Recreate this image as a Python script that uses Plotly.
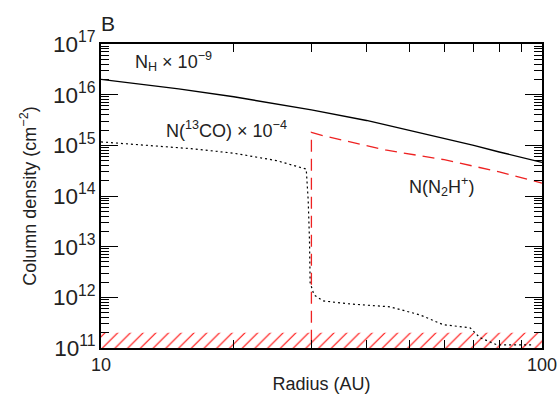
import plotly.graph_objects as go

# N_H x 1e-9 (solid)
nh_r = [10, 15, 20, 25, 30, 40, 50, 60, 70, 80, 90, 100]
nh_val = [2.0e16, 1.3e16, 9.1e15, 6.6e15, 5.0e15, 3.1e15, 2.0e15, 1.38e15, 1.0e15, 7.4e14, 5.7e14, 4.6e14]

# N(13CO) x 1e-4 (dotted)
co_r = [10, 12.9, 16, 20, 25, 29.2, 29.5, 29.7, 29.8, 30.4, 31.9, 36.7, 45.2, 52.9, 59.6, 68.7, 72.3, 79.1, 86.7, 95.2]
co_val = [1.17e15, 9.8e14, 8.6e14, 7.0e14, 5.0e14, 3.4e14, 8.3e13, 1.35e13, 1.95e12, 1.12e12,
          8.5e11, 7.4e11, 6.5e11, 4.5e11, 2.9e11, 2.5e11, 1.6e11, 1.15e11, 1.15e11, 1.15e11]

# N(N2H+) (dashed red)
n2h_r = [30.0, 30.0, 31.9, 44.1, 60, 80, 100]
n2h_val = [1e10, 1.8e15, 1.55e15, 8.1e14, 5.2e14, 3.0e14, 1.8e14]

# detection limit band (hatched)
lim_r = [10, 100]
lim_lo = 1e11
lim_hi = 2e11

# tick labels
x_ticks = [10, 100]

ink = "#222222"
font = "Liberation Sans"
fs = 18

fig = go.Figure()
fig.add_trace(go.Scatter(
    x=[lim_r[0], lim_r[1], lim_r[1], lim_r[0], lim_r[0]],
    y=[lim_lo, lim_lo, lim_hi, lim_hi, lim_lo],
    mode="none", fill="toself", fillcolor="white",
    fillpattern=dict(shape="/", fgcolor="#ff0000", bgcolor="white", fgopacity=1,
                     size=9, solidity=0.12, fillmode="replace"),
    hoverinfo="skip", showlegend=False))
fig.add_trace(go.Scatter(x=nh_r, y=nh_val, mode="lines",
                         line=dict(color="black", width=1.4), showlegend=False))
fig.add_trace(go.Scatter(x=co_r, y=co_val, mode="lines",
                         line=dict(color="black", width=1.2, dash="2px,3px"), showlegend=False))
fig.add_trace(go.Scatter(x=n2h_r, y=n2h_val, mode="lines",
                         line=dict(color="#ee2222", width=1.3, dash="12px,7px"), showlegend=False))

fig.update_xaxes(type="log", range=[1, 2], showline=True, linecolor="black", linewidth=1.5,
                 mirror="allticks", ticks="inside", ticklen=8, tickcolor="black",
                 tickvals=x_ticks, ticktext=[str(v) for v in x_ticks], showgrid=False, zeroline=False,
                 minor=dict(ticks="inside", ticklen=8, tickcolor="black", dtick="D1", showgrid=False),
                 tickfont=dict(family=font, size=fs, color=ink), automargin=False,
                 title=dict(text="Radius (AU)", font=dict(family=font, size=fs, color=ink), standoff=3))
fig.update_yaxes(type="log", range=[11, 17], showline=True, linecolor="black", linewidth=1.5,
                 mirror="allticks", ticks="inside", ticklen=17, tickcolor="black",
                 dtick=1, exponentformat="power",
                 showgrid=False, zeroline=False,
                 minor=dict(ticks="inside", ticklen=8, tickcolor="black", dtick="D1", showgrid=False),
                 tickfont=dict(family=font, size=fs, color=ink), automargin=False,
                 title=dict(text="Column density (cm<sup>−2</sup>)", font=dict(family=font, size=fs, color=ink), standoff=12))

ann = dict(xref="paper", yref="paper", showarrow=False, font=dict(family=font, size=fs, color=ink),
           xanchor="left", yanchor="middle")
fig.add_annotation(text="N<sub>H</sub> × 10<sup>−9</sup>", x=0.072, y=0.941, **ann)
fig.add_annotation(text="N(<sup>13</sup>CO) × 10<sup>−4</sup>", x=0.143, y=0.72, **ann)
fig.add_annotation(text="N(N<sub>2</sub>H<sup>+</sup>)", x=0.693, y=0.53, **ann)
fig.add_annotation(text="B", x=-0.004, y=1.067, xref="paper", yref="paper", showarrow=False,
                   font=dict(family=font, size=21, color=ink), xanchor="left", yanchor="middle")

fig.update_layout(width=559, height=394, margin=dict(l=101, r=17, t=44, b=46),
                  plot_bgcolor="white", paper_bgcolor="white")
fig.write_html("out.html", post_script="document.body.style.margin='0';document.body.style.overflow='hidden';")
